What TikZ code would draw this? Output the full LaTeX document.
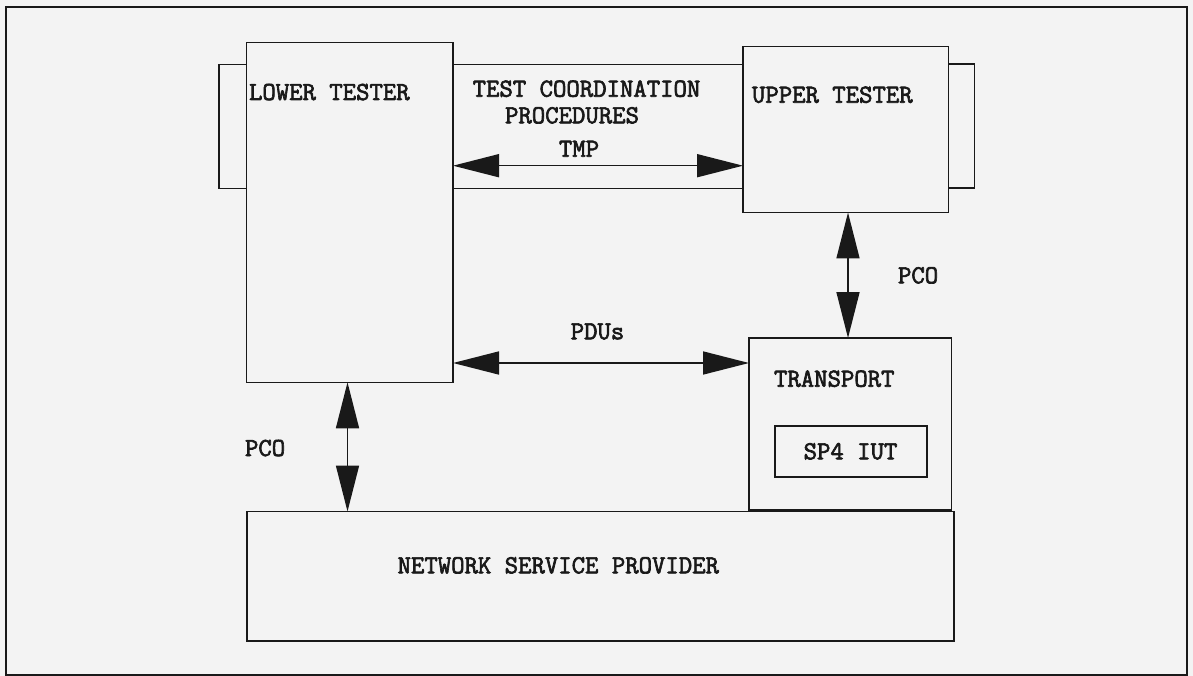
\documentclass[tikz,border=0pt]{standalone}
\usepackage{fontspec}
\newfontfamily\plotfont{Latin Modern Mono}[FakeBold=2.5]
\usetikzlibrary{arrows.meta}
\definecolor{paper}{RGB}{243,243,243}
\definecolor{ink}{RGB}{25,25,25}
\tikzset{
  boxnode/.style={draw=ink, line width=1.6pt, rectangle, inner sep=0pt, outer sep=0pt},
  txt/.style={inner sep=0pt, outer sep=0pt, text=ink, font=\plotfont\fontsize{26}{30}\selectfont},
  dblarrow/.style={draw=ink, line width=1.6pt, {Triangle[length=46pt,width=23pt]}-{Triangle[length=46pt,width=23pt]}},
  edge/.style={draw=ink, line width=1.6pt}
}
\begin{document}
\begin{tikzpicture}[x=1pt,y=-1pt]
\fill[paper] (0,0) rectangle (1193,676);
\useasboundingbox (0,0) rectangle (1193,676);
% outer frame
\node[boxnode, line width=2.2pt, minimum width=1181pt, minimum height=668pt] (frame) at (596.5,341) {};
% boxes
\node[boxnode, minimum width=27.5pt, minimum height=124pt] (lbr) at (232.75,126.5) {};
\node[boxnode, minimum width=26pt, minimum height=124pt] (rbr) at (961.5,126) {};
\node[boxnode, minimum width=206.5pt, minimum height=339.6pt] (lower) at (349.75,212.5) {};
\node[boxnode, minimum width=205.5pt, minimum height=166pt] (upper) at (845.75,129.5) {};
\node[boxnode, minimum width=202.5pt, minimum height=172pt] (transport) at (850.25,424) {};
\node[boxnode, minimum width=152pt, minimum height=51pt] (sp4) at (851,451.2) {};
\node[boxnode, minimum width=707pt, minimum height=129.5pt] (nsp) at (600.5,576.25) {};
% channel between testers
\draw[edge] (lower.east |- lbr.north) -- (upper.west |- lbr.north);
\draw[edge] (lower.east |- lbr.south) -- (upper.west |- lbr.south);
% helper coordinates
\coordinate (tmpy) at (0,165.7);
\coordinate (pduy) at (0,363);
\coordinate (upcox) at (848,0);
\coordinate (lpcox) at (347.5,0);
% arrows
\draw[dblarrow] (lower.east |- tmpy) -- (upper.west |- tmpy);
\draw[dblarrow] (lower.east |- pduy) -- (transport.west |- pduy);
\draw[dblarrow] (upper.south -| upcox) -- (transport.north -| upcox);
\draw[dblarrow] (lower.south -| lpcox) -- (nsp.north -| lpcox);
% texts
\node[txt, anchor=base west] (tlower) at (249,100) {LOWER TESTER};
\node[txt, anchor=base] (ttcp1) at (586.5,96.7) {TEST COORDINATION};
\node[txt, anchor=base] (ttcp2) at (572,123.3) {PROCEDURES};
\node[txt, anchor=base] (ttmp) at (579,156.7) {TMP};
\node[txt, anchor=base west] (tupper) at (752,102.7) {UPPER TESTER};
\node[txt, anchor=base west] (tupco) at (898,283.3) {PCO};
\node[txt, anchor=base] (tpdu) at (597.5,339.3) {PDUs};
\node[txt, anchor=base west] (ttransport) at (774,386.7) {TRANSPORT};
\node[txt, anchor=base] (tsp4) at (850.5,459.3) {SP4 IUT};
\node[txt, anchor=base west] (tlpco) at (245,456) {PCO};
\node[txt, anchor=base] (tnsp) at (558.3,573.3) {NETWORK SERVICE PROVIDER};
\end{tikzpicture}
\end{document}
